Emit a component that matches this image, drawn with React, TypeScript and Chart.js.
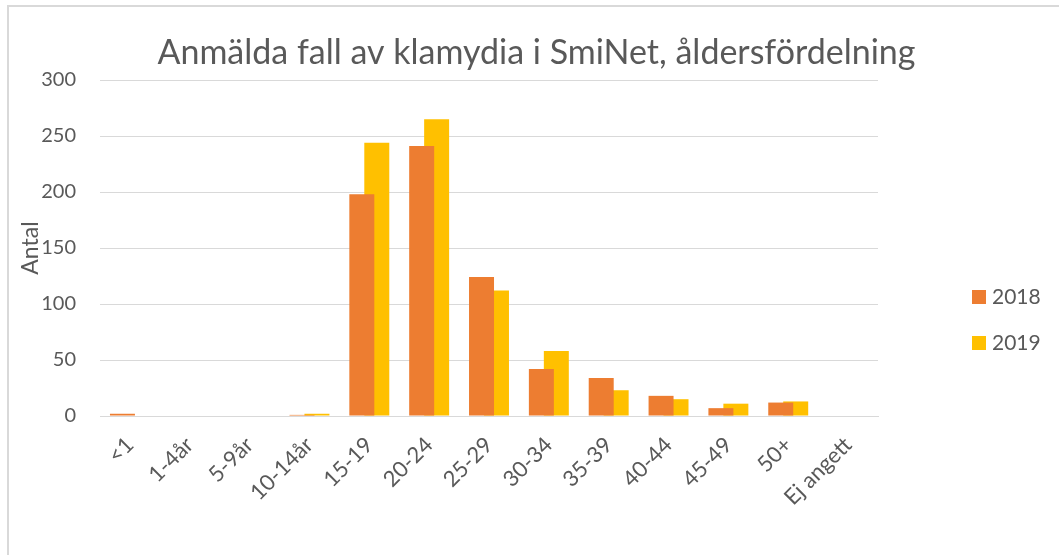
import React, { useEffect, useRef } from "react";
import { Chart, registerables } from "chart.js";

Chart.register(...registerables);

const categories = ["<1", "1-4år", "5-9år", "10-14år", "15-19", "20-24", "25-29", "30-34", "35-39", "40-44", "45-49", "50+", "Ej angett"];
const values2018 = [2, 0, 0, 1, 198, 241, 124, 42, 34, 18, 7, 12, 0];
const values2019 = [0, 0, 0, 2, 244, 265, 112, 58, 23, 15, 11, 13, 0];
const seriesLabels = ["2018", "2019"];
const seriesColors = ["#ED7D31", "#FFC000"];
const titleText = "Anmälda fall av klamydia i SmiNet, åldersfördelning";
const yTitle = "Antal";

const FONT = "Lato, 'Open Sans', sans-serif";
const TEXT = "#595959";

const legendPlugin = {
  id: "customLegend",
  afterDraw(chart: any) {
    const ctx = chart.ctx;
    ctx.save();
    ctx.font = `21px ${FONT}`;
    ctx.textBaseline = "middle";
    ctx.textAlign = "left";
    chart.data.datasets.forEach((ds: any, i: number) => {
      const y = 290 + i * 46;
      ctx.fillStyle = ds.backgroundColor;
      ctx.fillRect(972, y, 14, 14);
      ctx.fillStyle = TEXT;
      ctx.fillText(ds.label, 992, y + 7.5);
    });
    ctx.restore();
  },
};

export default function App() {
  const ref = useRef<HTMLCanvasElement | null>(null);
  useEffect(() => {
    if (!ref.current) return;
    const chart = new Chart(ref.current, {
      type: "bar",
      data: {
        labels: categories,
        datasets: [
          { label: seriesLabels[0], data: values2018, backgroundColor: seriesColors[0], categoryPercentage: 0.5, barPercentage: 1.67 },
          { label: seriesLabels[1], data: values2019, backgroundColor: seriesColors[1], categoryPercentage: 0.5, barPercentage: 1.67 },
        ],
      },
      options: {
        animation: false,
        responsive: false,
        maintainAspectRatio: false,
        layout: { padding: { left: 14, right: 0, top: 0, bottom: 0 } },
        plugins: {
          legend: { display: false },
          tooltip: { enabled: false },
          title: {
            display: true,
            text: titleText,
            color: TEXT,
            font: { family: FONT, size: 34, weight: "normal" as any, lineHeight: 1.2 },
            padding: { top: 33, bottom: 6.2 },
          },
        },
        scales: {
          x: {
            grid: { display: false, drawTicks: false },
            border: { display: true, color: "#d9d9d9", width: 1 },
            ticks: {
              color: TEXT,
              font: { family: FONT, size: 22 },
              minRotation: 45,
              maxRotation: 45,
              autoSkip: false,
              padding: 16,
            },
            afterFit(scale: any) {
              scale.height = 139;
            },
          },
          y: {
            min: 0,
            max: 300,
            ticks: { stepSize: 50, color: TEXT, font: { family: FONT, size: 20 }, padding: 24 },
            grid: { color: "#d9d9d9", drawTicks: false, lineWidth: 1 },
            border: { display: false },
            title: {
              display: true,
              text: yTitle,
              color: TEXT,
              font: { family: FONT, size: 23 },
              padding: { top: 3, bottom: 0 },
            },
            afterFit(scale: any) {
              scale.width = 86;
            },
          },
          yRight: {
            position: "right",
            display: true,
            grid: { display: false, drawTicks: false },
            border: { display: false },
            ticks: { display: false },
            afterFit(scale: any) {
              scale.width = 181;
            },
          },
        },
      },
      plugins: [legendPlugin],
    });
    return () => chart.destroy();
  }, []);

  return (
    <div style={{ position: "fixed", left: 0, top: 0, width: 1059, height: 555, background: "#fff", overflow: "hidden" }}>
      <div style={{ position: "absolute", left: 7, top: 5, width: 1100, height: 600, border: "2px solid #d9d9d9", boxSizing: "border-box" }} />
      <canvas ref={ref} width={1059} height={555} style={{ position: "absolute", left: 0, top: 0 }} />
    </div>
  );
}
